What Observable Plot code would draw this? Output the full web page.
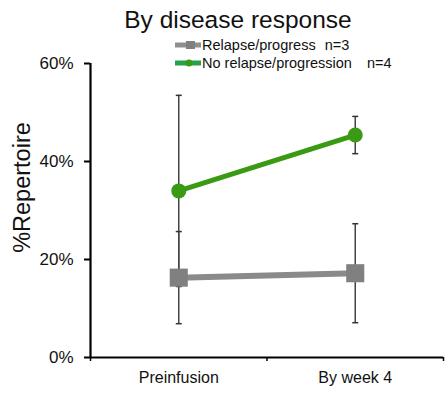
<!DOCTYPE html>
<html>
<head>
<meta charset="utf-8">
<script src="https://cdn.jsdelivr.net/npm/d3@7"></script>
<script src="https://cdn.jsdelivr.net/npm/@observablehq/plot@0.6"></script>
<style>
  body { margin: 0; background: #fff; font-family: "Liberation Sans", Arial, sans-serif; }
  #wrap { position: relative; width: 447px; height: 394px; }
  #title { position: absolute; left: 0; width: 476px; top: 6px; text-align: center; font-size: 24.5px; line-height: 28px; color: #111; }
  .leg { position: absolute; left: 175px; display: flex; align-items: center; font-size: 14.5px; color: #111; white-space: nowrap; }
  .leg svg { display: block; margin-right: 1px; }
</style>
</head>
<body>
<div id="wrap">
  <div id="chart"></div>
  <div id="title">By disease response</div>
  <div class="leg" style="top:37px"><svg width="26" height="12"><line x1="0" y1="6" x2="26" y2="6" stroke="#8f8f8f" stroke-width="5" stroke-linecap="round"/><rect x="11" y="2" width="9" height="8" fill="#808080"/></svg><span>Relapse/progress</span><span style="margin-left:9px">n=3</span></div>
  <div class="leg" style="top:55px"><svg width="26" height="12"><line x1="0" y1="6" x2="26" y2="6" stroke="#22a34c" stroke-width="5" stroke-linecap="round"/><circle cx="14" cy="6" r="3.5" fill="#3a9a14"/></svg><span>No relapse/progression</span><span style="margin-left:15px">n=4</span></div>
</div>
<script>
const categories = ["Preinfusion", "By week 4"];
const seriesNames = ["Relapse/progress", "No relapse/progression"];
const relapseMean = [0.163, 0.172];
const relapseErr  = [0.094, 0.101];
const noRelapseMean = [0.340, 0.454];
const noRelapseErr  = [0.195, 0.038];
const yTicks = [0, 0.2, 0.4, 0.6];

const rows = [];
categories.forEach((c, i) => {
  rows.push({series: seriesNames[0], i, x: i + 0.5, y: relapseMean[i], lo: relapseMean[i] - relapseErr[i], hi: relapseMean[i] + relapseErr[i]});
  rows.push({series: seriesNames[1], i, x: i + 0.5, y: noRelapseMean[i], lo: noRelapseMean[i] - noRelapseErr[i], hi: noRelapseMean[i] + noRelapseErr[i]});
});
const caps = rows.flatMap(d => [{x: d.x, y: d.lo}, {x: d.x, y: d.hi}]);
const relapse = rows.filter(d => d.series === seriesNames[0]);
const noRelapse = rows.filter(d => d.series === seriesNames[1]);

const capSymbol = { draw(ctx, size) { ctx.moveTo(-3, 0); ctx.lineTo(3, 0); } };

const plot = Plot.plot({
  width: 447,
  height: 394,
  marginLeft: 90,
  marginRight: 4,
  marginTop: 63,
  marginBottom: 37,
  style: { fontFamily: "'Liberation Sans', Arial, sans-serif", color: "#111", background: "transparent" },
  x: { type: "linear", domain: [0, categories.length] },
  y: { domain: [0, 0.6] },
  marks: [
    Plot.ruleX(rows, { x: "x", y1: "lo", y2: "hi", stroke: "#444", strokeWidth: 1.5 }),
    Plot.dot(caps, { x: "x", y: "y", symbol: capSymbol, stroke: "#333", strokeWidth: 1.5, r: 3 }),
    Plot.line(relapse, { x: "x", y: "y", stroke: "#8a8a8a", strokeWidth: 6 }),
    Plot.line(noRelapse, { x: "x", y: "y", stroke: "#3a9a14", strokeWidth: 5 }),
    Plot.dot(relapse, { x: "x", y: "y", symbol: "square", fill: "#808080", r: 10.2 }),
    Plot.dot(noRelapse, { x: "x", y: "y", fill: "#3a9a14", r: 7.5 }),
    Plot.ruleX([0], { stroke: "#000", strokeWidth: 2.2 }),
    Plot.ruleY([0], { stroke: "#000", strokeWidth: 2.2 }),
    Plot.axisY({ ticks: yTicks, tickFormat: d3.format(".0%"), tickSize: 6, tickPadding: 11, fontSize: 17, label: null, stroke: "#000", strokeWidth: 2 }),
    Plot.axisX({ ticks: d3.range(categories.length + 1), tickFormat: () => "", tickSize: 4, label: null, stroke: "#000", strokeWidth: 1.5 }),
    Plot.axisX({ ticks: categories.map((c, i) => i + 0.5), tickFormat: v => categories[Math.floor(v)], tickSize: 0, tickPadding: 14, fontSize: 16, label: null }),
    Plot.text(["%Repertoire"], { frameAnchor: "left", textAnchor: "middle", text: d => d, rotate: -90, dx: -68, dy: -23, fontSize: 23.5, fill: "#111" })
  ]
});
document.getElementById("chart").append(plot);
</script>
</body>
</html>
